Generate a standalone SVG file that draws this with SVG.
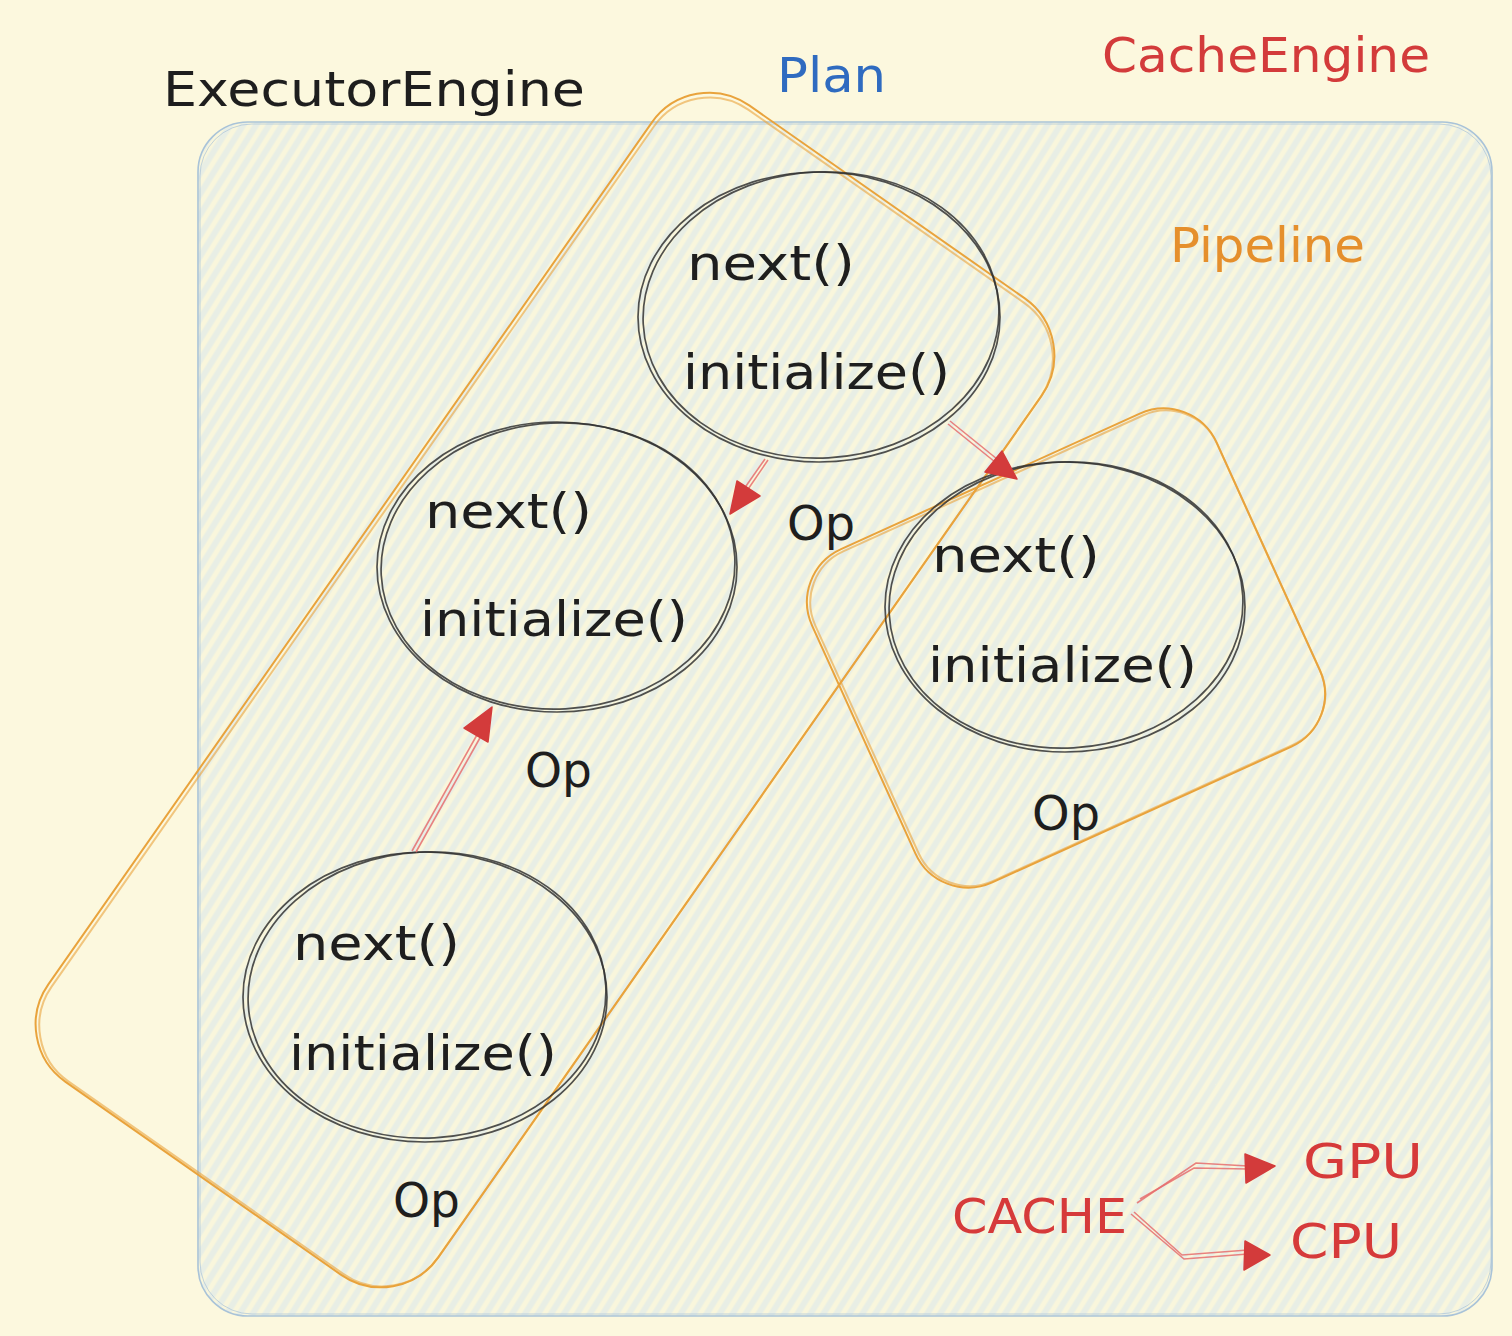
<svg xmlns="http://www.w3.org/2000/svg" width="1512" height="1336" viewBox="0 0 1512 1336">
<style>
.txt{font-family:"DejaVu Sans","Liberation Sans",sans-serif;font-size:48px}
.blk{fill:#1e1e1e}
.red{fill:#d63a3a}
.op{fill:none;stroke:#333333;stroke-width:1.7;stroke-opacity:0.85}
.org{fill:none;stroke:#e9a33c;stroke-width:2}
.conn{fill:none;stroke:#e66d6d;stroke-width:1.6;stroke-opacity:0.85}
.head{fill:#d33b3b;stroke:#d33b3b;stroke-width:1.5;stroke-linejoin:round}
</style>
<defs>
<pattern id="hatch" patternUnits="userSpaceOnUse" width="11" height="11" patternTransform="rotate(32)">
<rect width="11" height="11" fill="#e8eee5"/>
<line x1="3" y1="0" x2="3" y2="11" stroke="#f9f6dc" stroke-width="5"/>
</pattern>
</defs>
<rect width="1512" height="1336" fill="#fcf8de"/>

<g id="cache-engine">
<rect x="198" y="122" width="1294" height="1194" rx="50" fill="url(#hatch)" stroke="#a9c3d8" stroke-width="1.6"/>
<rect x="200" y="124" width="1291" height="1190" rx="52" fill="none" stroke="#a9c3d8" stroke-width="1" stroke-opacity="0.7"/>
<text class="txt" x="1102" y="72" textLength="328" lengthAdjust="spacingAndGlyphs" fill="#d33b3b">CacheEngine</text>
</g>

<g id="executor-engine-label">
<text class="txt blk" x="163" y="106" textLength="422" lengthAdjust="spacingAndGlyphs">ExecutorEngine</text>
</g>

<g id="plan">
<g transform="translate(545,690) rotate(35)">
<rect x="-238" y="-596" width="476" height="1192" rx="70" class="org"/>
<rect x="-234" y="-592" width="472" height="1186" rx="68" class="org" stroke-opacity="0.6"/>
</g>
<text class="txt" x="777" y="92" textLength="109" lengthAdjust="spacingAndGlyphs" fill="#2f6bc0">Plan</text>
</g>

<g id="pipeline">
<g transform="translate(1066,648) rotate(-24.4)">
<rect x="-222" y="-183" width="444" height="366" rx="58" class="org"/>
<rect x="-219" y="-180" width="441" height="362" rx="56" class="org" stroke-opacity="0.6"/>
</g>
<text class="txt" x="1170" y="262" textLength="195" lengthAdjust="spacingAndGlyphs" fill="#e58f2c">Pipeline</text>
</g>

<g id="op-top">
<ellipse cx="819" cy="317" rx="181" ry="145" class="op"/>
<ellipse cx="821" cy="315" rx="178" ry="143" class="op" transform="rotate(-3 821 315)"/>
<text class="txt blk" x="687" y="280" textLength="168" lengthAdjust="spacingAndGlyphs">next()</text>
<text class="txt blk" x="683" y="389" textLength="267" lengthAdjust="spacingAndGlyphs">initialize()</text>
<text class="txt blk" x="787" y="540" textLength="68" lengthAdjust="spacingAndGlyphs">Op</text>
</g>

<g id="op-middle">
<ellipse cx="557" cy="567" rx="180" ry="145" class="op"/>
<ellipse cx="558" cy="566" rx="177" ry="143" class="op" transform="rotate(-3 558 566)"/>
<text class="txt blk" x="425" y="528" textLength="167" lengthAdjust="spacingAndGlyphs">next()</text>
<text class="txt blk" x="420" y="636" textLength="268" lengthAdjust="spacingAndGlyphs">initialize()</text>
<text class="txt blk" x="525" y="787" textLength="67" lengthAdjust="spacingAndGlyphs">Op</text>
</g>

<g id="op-right">
<ellipse cx="1065" cy="607" rx="180" ry="145" class="op"/>
<ellipse cx="1066" cy="605" rx="177" ry="143" class="op" transform="rotate(-3 1066 605)"/>
<text class="txt blk" x="932" y="572" textLength="168" lengthAdjust="spacingAndGlyphs">next()</text>
<text class="txt blk" x="928" y="682" textLength="269" lengthAdjust="spacingAndGlyphs">initialize()</text>
<text class="txt blk" x="1032" y="830" textLength="68" lengthAdjust="spacingAndGlyphs">Op</text>
</g>

<g id="op-bottom">
<ellipse cx="425" cy="997" rx="182" ry="145" class="op"/>
<ellipse cx="427" cy="995" rx="179" ry="143" class="op" transform="rotate(-3 427 995)"/>
<text class="txt blk" x="293" y="960" textLength="167" lengthAdjust="spacingAndGlyphs">next()</text>
<text class="txt blk" x="289" y="1070" textLength="268" lengthAdjust="spacingAndGlyphs">initialize()</text>
<text class="txt blk" x="393" y="1217" textLength="67" lengthAdjust="spacingAndGlyphs">Op</text>
</g>

<g id="cache">
<text class="txt red" x="952" y="1233" textLength="175" lengthAdjust="spacingAndGlyphs">CACHE</text>
</g>
<g id="gpu">
<text class="txt red" x="1303" y="1178" textLength="120" lengthAdjust="spacingAndGlyphs">GPU</text>
</g>
<g id="cpu">
<text class="txt red" x="1290" y="1258" textLength="112" lengthAdjust="spacingAndGlyphs">CPU</text>
</g>

<g id="connectors">
<path class="conn" d="M768,460 L742,498"/>
<path class="conn" d="M765,459 L739,496" stroke-opacity="0.5"/>
<polygon class="head" points="730,514 760,496 737,481"/>

<path class="conn" d="M948,424 L995,462"/>
<path class="conn" d="M950,421 L997,459" stroke-opacity="0.5"/>
<polygon class="head" points="1017,479 985,472 1002,451"/>

<path class="conn" d="M412,851 L478,733"/>
<path class="conn" d="M416,852 L481,736" stroke-opacity="0.5"/>
<polygon class="head" points="492,707 488,742 464,728"/>

<path class="conn" d="M1137,1203 L1196,1163 L1248,1166"/>
<path class="conn" d="M1140,1199 L1194,1168 L1248,1169" stroke-opacity="0.5"/>
<polygon class="head" points="1275,1166 1245,1154 1246,1183"/>

<path class="conn" d="M1131,1214 L1184,1259 L1248,1254"/>
<path class="conn" d="M1134,1212 L1182,1255 L1248,1250" stroke-opacity="0.5"/>
<polygon class="head" points="1270,1255 1245,1241 1244,1270"/>
</g>
</svg>
